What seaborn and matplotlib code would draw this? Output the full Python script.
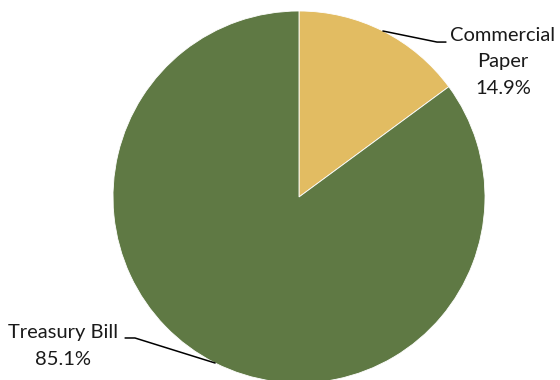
import numpy as np
import matplotlib
matplotlib.use("Agg")
import matplotlib.pyplot as plt
import seaborn as sns

categories = ["Commercial\nPaper", "Treasury Bill"]
values = [14.9, 85.1]
colors = ["#E2BC62", "#5F7944"]

sns.set_theme(style="white")
plt.rcParams['font.family'] = ['Lato', 'DejaVu Sans']

W, H = 560, 380
fig = plt.figure(figsize=(W / 100, H / 100), dpi=100)
cx, cy, r = 299, 197, 186
ax = fig.add_axes([(cx - r) / W, (H - cy - r) / H, 2 * r / W, 2 * r / H])

wedges, _ = ax.pie(values, colors=colors, startangle=90, counterclock=False,
                   radius=1, wedgeprops=dict(linewidth=0.6, edgecolor='white'))
for w in wedges:
    w.set_clip_on(False)
ax.set_xlim(-1, 1)
ax.set_ylim(-1, 1)
ax.set_aspect('equal')
ax.axis('off')

# label placement (positions in data coords)
label_cfg = [
    dict(elbow=(0.742, 0.833), end=(0.790, 0.833), text=(1.097, 0.726)),
    dict(elbow=(-0.882, -0.758), end=(-0.935, -0.758), text=(-1.269, -0.801)),
]
for w, cat, v, cfg in zip(wedges, categories, values, label_cfg):
    mid = np.deg2rad((w.theta1 + w.theta2) / 2)
    px, py = np.cos(mid), np.sin(mid)
    ax.plot([px, cfg['elbow'][0], cfg['end'][0]], [py, cfg['elbow'][1], cfg['end'][1]],
            color='black', lw=1.1, clip_on=False)
    label = f"{cat}\n{v:.1f}%"
    ax.text(cfg['text'][0], cfg['text'][1], label, ha='center', va='center',
            fontsize=14.5, color='#1a1a1a', linespacing=1.65, clip_on=False)

fig.savefig("out.png", dpi=100)
